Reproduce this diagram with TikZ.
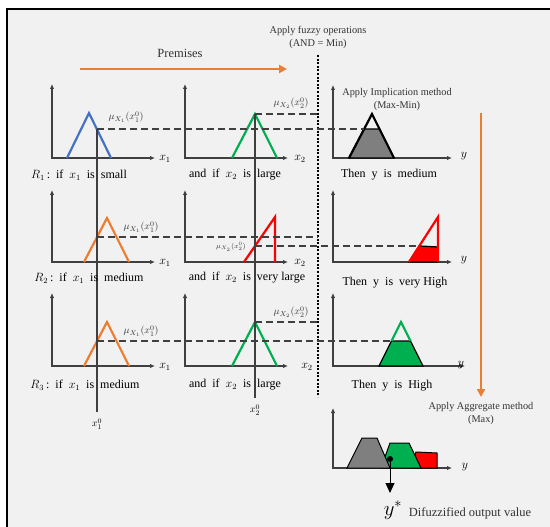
\documentclass[tikz,border=0pt]{standalone}
\usepackage{fontspec}
\setmainfont{Liberation Serif}
\usetikzlibrary{arrows.meta}
\definecolor{bgc}{HTML}{F1F1F1}
\definecolor{axc}{HTML}{3F3F3F}
\definecolor{mfblue}{HTML}{4472C4}
\definecolor{mforange}{HTML}{ED7D31}
\definecolor{mfgreen}{HTML}{00B050}
\definecolor{mfred}{HTML}{FF0000}
\definecolor{mfgray}{HTML}{7F7F7F}
\begin{document}
\begin{tikzpicture}[x=1pt,y=-1pt,
  axis/.style={draw=axc,line width=1.2pt,{Latex[length=5pt,width=4.5pt]}-{Latex[length=5pt,width=4.5pt]}},
  dashln/.style={draw=axc,line width=1.2pt,dash pattern=on 7pt off 4pt},
  xline/.style={draw=axc,line width=1.1pt},
  mf/.style={line width=2.2pt,line join=miter},
  cut/.style={draw=black,line width=1.3pt},
  orarrow/.style={draw=mforange,line width=2pt,-{Triangle[length=8pt,width=8pt]}},
  rule/.style={font=\fontsize{12}{14}\selectfont,inner sep=0pt},
  ttl/.style={font=\fontsize{10.3}{12}\selectfont,inner sep=0pt,text=black!80},
  mulab/.style={font=\fontsize{10}{12}\selectfont,inner sep=0pt,text=black!80},
  axlab/.style={font=\fontsize{12}{14}\selectfont,inner sep=0pt}]
\useasboundingbox (0,0) rectangle (550,527);
\fill[white] (0,0) rectangle (550,527);
\fill[bgc] (7,9) rectangle (550,527);
\draw[black,line width=1.2pt] (7,527) -- (7,9) -- (550,9);

% header
\node[font=\fontsize{12.5}{14}\selectfont,text=black!80] (prem) at (180,53) {Premises};
\coordinate (pa) at (80,69); \coordinate (pb) at (287,69);
\draw[orarrow] (pa) -- (pb);
\node[ttl] (fo1) at (318,31) {Apply fuzzy operations};
\node[ttl] (fo2) at (318,44) {(AND = Min)};
\coordinate (dt) at (318,55); \coordinate (db) at (318,397);
\draw[black,line width=2.3pt,dash pattern=on 2pt off 1.6pt] (dt) -- (db);
\node[ttl] (im1) at (397,93) {Apply Implication method};
\node[ttl] (im2) at (397,106) {(Max-Min)};
\coordinate (va) at (481,113); \coordinate (vb) at (481,397);
\draw[orarrow] (va) -- (vb);
\node[ttl] (ag1) at (481,407) {Apply Aggregate method};
\node[ttl] (ag2) at (481,420) {(Max)};

% axes
\draw[axis] (52,84) -- (52,158) -- (155,158);
\draw[axis] (185,84) -- (185,158) -- (288,158);
\draw[axis] (333,85) -- (333,158) -- (452,158);
\draw[axis] (52,190) -- (52,262) -- (155,262);
\draw[axis] (185,190) -- (185,262) -- (288,262);
\draw[axis] (333,190) -- (333,262) -- (452,262);
\draw[axis] (52,293) -- (52,366) -- (155,366);
\draw[axis] (185,293) -- (185,366) -- (288,366);
\draw[axis] (333,293) -- (333,366) -- (465,366);
\draw[axis] (333,408) -- (333,468) -- (452,468);

% axis labels
\node[axlab] (l11) at (165,159) {$x_1$};
\node[axlab] (l12) at (300,159) {$x_2$};
\node[axlab] (l13) at (464,156) {$y$};
\node[axlab] (l21) at (165,263) {$x_1$};
\node[axlab] (l22) at (300,263) {$x_2$};
\node[axlab] (l23) at (464,260) {$y$};
\node[axlab] (l31) at (165,367) {$x_1$};
\node[axlab] (l32) at (307,367) {$x_2$};
\node[axlab] (l33) at (461,365) {$y$};
\node[axlab] (l41) at (465,467) {$y$};

% fills (implication)
\filldraw[fill=mfgray,cut] (349,158) -- (364.2,129) -- (379.5,129) -- (394,158) -- cycle;
\draw[mf,black] (349,158) -- (372,114) -- (394,158);
\filldraw[fill=mfred,cut] (409,262) -- (419.3,246) -- (438,247) -- (438,262) -- cycle;
\draw[mf,mfred] (409,262) -- (438,217) -- (438,262);
\filldraw[fill=mfgreen,cut] (379,366) -- (391.5,341) -- (410.5,341) -- (423,366) -- cycle;
\draw[mf,mfgreen] (391.5,341) -- (401,322) -- (410.5,341);

% premise membership functions
\draw[mf,mfblue] (67,158) -- (89,113) -- (111,158);
\draw[mf,mforange] (84,262) -- (107,218) -- (129,262);
\draw[mf,mforange] (84,366) -- (107,322) -- (129,366);
\draw[mf,mfgreen] (232,158) -- (255,114) -- (277,158);
\draw[mf,mfred] (244,262) -- (275,217) -- (275,262);
\draw[mf,mfgreen] (232,366) -- (255,322) -- (277,366);

% crisp inputs
\coordinate (x1t) at (97,129); \coordinate (x1b) at (97,412);
\coordinate (x2t) at (255,114); \coordinate (x2b) at (255,398);
\draw[xline] (x1t) -- (x1b);
\draw[xline] (x2t) -- (x2b);
\node[font=\fontsize{10}{12}\selectfont,inner sep=0pt] (x10) at (97,424) {$x_1^0$};
\node[font=\fontsize{10}{12}\selectfont,inner sep=0pt] (x20) at (255,410) {$x_2^0$};

% dashed levels
\draw[dashln] (97,129) -- (364.2,129);
\draw[dashln] (255,114) -- (318,114);
\draw[dashln] (97,237) -- (318,237);
\draw[dashln] (255,246) -- (419.3,246);
\draw[dashln] (97,341) -- (391.5,341);
\draw[dashln] (255,322) -- (318,322);

% mu labels
\node[mulab] (m11) at (126,117) {$\mu_{X_1}(x_1^0)$};
\node[mulab] (m12) at (291,103) {$\mu_{X_2}(x_2^0)$};
\node[mulab] (m21) at (141,227) {$\mu_{X_1}(x_1^0)$};
\node[mulab,font=\fontsize{7.5}{9}\selectfont] (m22) at (231,247) {$\mu_{X_2}(x_2^0)$};
\node[mulab] (m31) at (141,331) {$\mu_{X_1}(x_1^0)$};
\node[mulab] (m32) at (291,312) {$\mu_{X_2}(x_2^0)$};

% rule texts
\node[rule] (r11) at (79,175) {$R_1$\,:\ \ if\ \ $x_1$\ \ is\ \ small};
\node[rule] (r12) at (235,175) {and\ \ if\ \ $x_2$\ \ is\ \ large};
\node[rule] (r13) at (389,175) {Then\ \ y\ \ is\ \ medium};
\node[rule] (r21) at (89,278) {$R_2$\,:\ \ if\ \ $x_1$\ \ is\ \ medium};
\node[rule] (r22) at (247,278) {and\ \ if\ \ $x_2$\ \ is\ \ very large};
\node[rule] (r23) at (395,283) {Then\ \ y\ \ is\ \ very High};
\node[rule] (r31) at (85,385) {$R_3$\,:\ \ if\ \ $x_1$\ \ is\ \ medium};
\node[rule] (r32) at (235,385) {and\ \ if\ \ $x_2$\ \ is\ \ large};
\node[rule] (r33) at (392,386) {Then\ \ y\ \ is\ \ High};

% aggregate
\filldraw[fill=mfred,draw=black,line width=1pt] (410,468) -- (416,452) -- (437,453) -- (437,468) -- cycle;
\filldraw[fill=mfgreen,draw=black,line width=1pt] (381,468) -- (390,443) -- (409,443) -- (421,468) -- cycle;
\filldraw[fill=mfgray,draw=black,line width=1pt] (347,468) -- (362,438) -- (377,438) -- (390,468) -- cycle;
\coordinate (cg) at (390,459); \coordinate (ys) at (390,493);
\fill[black] (cg) circle (3pt);
\draw[black,line width=1pt,-{Triangle[length=10pt,width=9pt]}] (cg) -- (ys);
\node[font=\fontsize{20}{22}\selectfont,inner sep=0pt] (yst) at (393,510) {$y^{*}$};
\node[font=\fontsize{12.5}{14}\selectfont,inner sep=0pt,text=black!80] (dov) at (470,513) {Difuzzified output value};
\end{tikzpicture}
\end{document}
